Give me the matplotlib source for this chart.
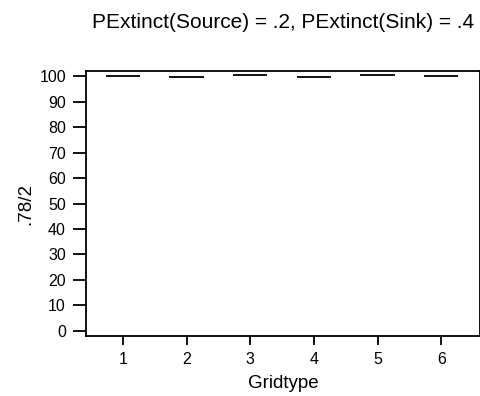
import matplotlib
matplotlib.use('Agg')
import matplotlib.pyplot as plt

# data
gridtype = [1, 2, 3, 4, 5, 6]
medians = [100.0, 99.8, 100.4, 99.6, 100.5, 100.2]
yticks = list(range(0, 101, 10))

plt.rcParams['font.family'] = ['Liberation Sans', 'DejaVu Sans']

fig = plt.figure(figsize=(4.81, 3.96), dpi=100)
ax = fig.add_axes([0.179, 0.1515, 0.819, 0.669])

ax.hlines(medians, [g - 0.27 for g in gridtype], [g + 0.27 for g in gridtype],
          color='black', lw=1.3)

ax.set_xlim(0.42, 6.61)
ax.set_ylim(-2, 102)
ax.set_xticks(gridtype)
ax.set_yticks(yticks)
ax.tick_params(direction='out', width=1.3, labelsize=11.5)
ax.tick_params(axis='y', length=9.5, pad=5)
ax.tick_params(axis='x', length=6.5, pad=5)
for s in ax.spines.values():
    s.set_linewidth(1.3)

ax.set_xlabel('Gridtype', fontsize=13.5, labelpad=6)
ax.set_ylabel('.78/2', fontsize=13.5, labelpad=4)
fig.text(0.588, 0.944, 'PExtinct(Source) = .2, PExtinct(Sink) = .4',
         ha='center', va='center', fontsize=15)

fig.savefig('out.png', dpi=100)
